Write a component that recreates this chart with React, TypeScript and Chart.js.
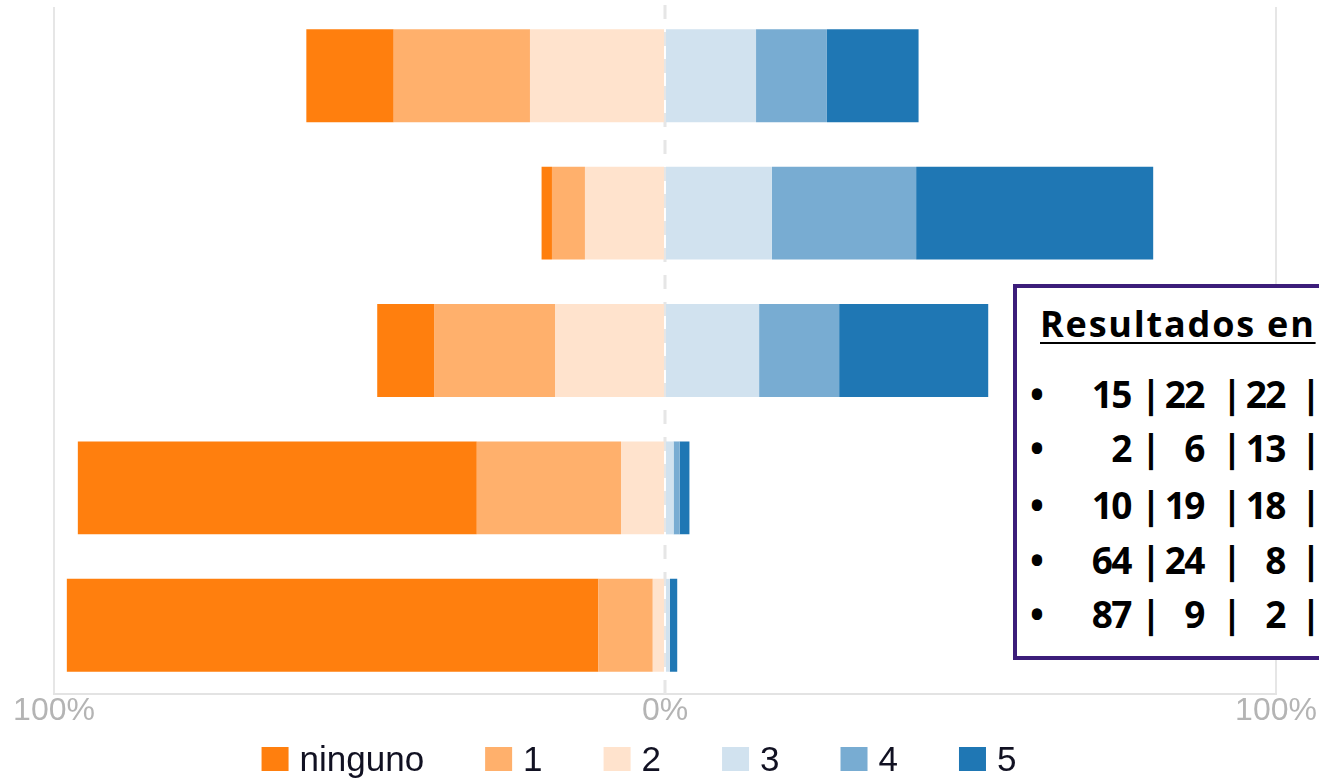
import React, { useEffect, useRef } from "react";
import { Chart, registerables } from "chart.js";

Chart.register(...registerables);

// ---- data ----
const categories = ["Pregunta 1", "Pregunta 2", "Pregunta 3", "Pregunta 4", "Pregunta 5"];
const legendLabels = ["ninguno", "1", "2", "3", "4", "5"];
const ninguno = [14.3, 1.7, 9.3, 65.3, 87];
const uno = [22.3, 5.4, 19.8, 23.6, 8.9];
const dos = [22.1, 13.1, 18, 7.2, 2];
const tres = [14.9, 17.5, 15.4, 1.4, 0.8];
const cuatro = [11.6, 23.6, 13.1, 1, 0];
const cinco = [15, 38.8, 24.4, 1.6, 1.2];
const colors = ["#ff7f0e", "#ffb06c", "#ffe3cd", "#d1e2ef", "#78acd2", "#1f77b4"];
const xTicks = [-100, 0, 100];
const boxTitle = "Resultados en";
const boxRows = [
  ["15", "22", "22"],
  ["2", "6", "13"],
  ["10", "19", "18"],
  ["64", "24", "8"],
  ["87", "9", "2"],
];

const zeroLinePlugin = {
  id: "zeroLine",
  beforeDatasetsDraw(chart: any) {
    const { ctx, chartArea, scales } = chart;
    const x = scales.x.getPixelForValue(0);
    ctx.save();
    ctx.strokeStyle = "#e6e6e6";
    ctx.lineWidth = 3;
    ctx.setLineDash([14, 13]);
    ctx.beginPath();
    ctx.moveTo(x, chartArea.top - 2);
    ctx.lineTo(x, chartArea.bottom);
    ctx.stroke();
    ctx.restore();
  },
};

const legendPlugin = {
  id: "bottomLegend",
  afterDraw(chart: any) {
    const ctx = chart.ctx;
    ctx.save();
    ctx.font = '35px "Liberation Sans", Arial, sans-serif';
    const boxW = 27;
    const boxH = 24;
    const gapText = 11;
    const gapItem = 61;
    const widths = legendLabels.map((t) => boxW + gapText + ctx.measureText(t).width);
    const total = widths.reduce((a, b) => a + b, 0) + gapItem * (widths.length - 1);
    let x = 639 - total / 2;
    const cy = 759;
    legendLabels.forEach((t, i) => {
      const ds = chart.data.datasets.find((d: any) => d.label === t);
      ctx.fillStyle = ds ? ds.backgroundColor : colors[i];
      ctx.fillRect(x, cy - boxH / 2, boxW, boxH);
      ctx.fillStyle = "#111122";
      ctx.textBaseline = "alphabetic";
      ctx.textAlign = "left";
      ctx.fillText(t, x + boxW + gapText, 771);
      x += widths[i] + gapItem;
    });
    ctx.restore();
  },
};

function ChartCanvas() {
  const ref = useRef<HTMLCanvasElement | null>(null);
  useEffect(() => {
    if (!ref.current) return;
    const neg = (a: number[]) => a.map((v) => -v);
    const chart = new Chart(ref.current, {
      type: "bar",
      data: {
        labels: categories,
        datasets: [
          { label: legendLabels[2], data: neg(dos), backgroundColor: colors[2] },
          { label: legendLabels[1], data: neg(uno), backgroundColor: colors[1] },
          { label: legendLabels[0], data: neg(ninguno), backgroundColor: colors[0] },
          { label: legendLabels[3], data: tres, backgroundColor: colors[3] },
          { label: legendLabels[4], data: cuatro, backgroundColor: colors[4] },
          { label: legendLabels[5], data: cinco, backgroundColor: colors[5] },
        ].map((d) => ({ ...d, borderWidth: 0, barPercentage: 0.676, categoryPercentage: 1 })),
      },
      options: {
        indexAxis: "y",
        animation: false,
        responsive: false,
        maintainAspectRatio: false,
        layout: { padding: { left: 54, right: 43, top: 7, bottom: 55 } },
        plugins: { legend: { display: false }, tooltip: { enabled: false } },
        scales: {
          x: {
            type: "linear",
            stacked: true,
            min: -100,
            max: 100,
            afterBuildTicks: (s: any) => {
              s.ticks = xTicks.map((v) => ({ value: v }));
            },
            afterFit: (s: any) => {
              s.height = 30;
            },
            ticks: {
              callback: (v: any) => Math.abs(Number(v)) + "%",
              color: "#b4b4b4",
              font: { family: '"Liberation Sans Narrow", "Liberation Sans", sans-serif', size: 32, lineHeight: 1 },
              padding: 1,
              maxRotation: 0,
              autoSkip: false,
            },
            grid: {
              color: (c: any) => (c.tick && c.tick.value === 0 ? "rgba(0,0,0,0)" : "#e6e6e6"),
              lineWidth: 2,
              drawTicks: false,
            },
            border: { display: true, color: "#e3e3e3", width: 2 },
          },
          y: { type: "category", stacked: true, display: false },
        },
      } as any,
      plugins: [zeroLinePlugin, legendPlugin],
    });
    return () => chart.destroy();
  }, []);
  return <canvas ref={ref} width={1319} height={779} style={{ display: "block" }} />;
}

const rowCenters = [395, 449, 506, 561, 615];
const colRight = [1131, 1204, 1285];
const pipeX = [1151, 1232, 1311];

export default function App() {
  const rowFont: React.CSSProperties = {
    position: "absolute",
    fontFamily: '"Open Sans", sans-serif',
    fontWeight: 700,
    fontSize: 37,
    lineHeight: "37px",
    color: "#000",
    whiteSpace: "nowrap",
  };
  return (
    <div
      style={{
        position: "fixed",
        left: 0,
        top: 0,
        width: 1319,
        height: 779,
        overflow: "hidden",
        background: "#fff",
      }}
    >
      <ChartCanvas />
      <div
        style={{
          position: "absolute",
          left: 1013,
          top: 284,
          width: 420,
          height: 376,
          border: "4px solid #3c1d7a",
          boxSizing: "border-box",
          background: "#fff",
        }}
      />
      <div
        style={{
          position: "absolute",
          left: 1040,
          top: 306,
          fontFamily: '"Open Sans", sans-serif',
          fontWeight: 700,
          fontSize: 36,
          lineHeight: "36px",
          letterSpacing: 1.8,
          color: "#000",
          whiteSpace: "nowrap",
          textDecoration: "underline",
          textUnderlineOffset: "5px",
          textDecorationThickness: "2px",
        }}
      >
        {boxTitle}
      </div>
      {boxRows.map((row, i) => {
        const top = rowCenters[i] - 19.6;
        return (
          <React.Fragment key={i}>
            <span style={{ ...rowFont, left: 1030, top }}>•</span>
            {row.map((v, j) => (
              <React.Fragment key={j}>
                <span style={{ ...rowFont, left: colRight[j] - 70, width: 70, textAlign: "right", top, letterSpacing: -1.5 }}>{v}</span>
                <span style={{ ...rowFont, left: pipeX[j] - 15, width: 30, textAlign: "center", top }}>|</span>
              </React.Fragment>
            ))}
          </React.Fragment>
        );
      })}
    </div>
  );
}
